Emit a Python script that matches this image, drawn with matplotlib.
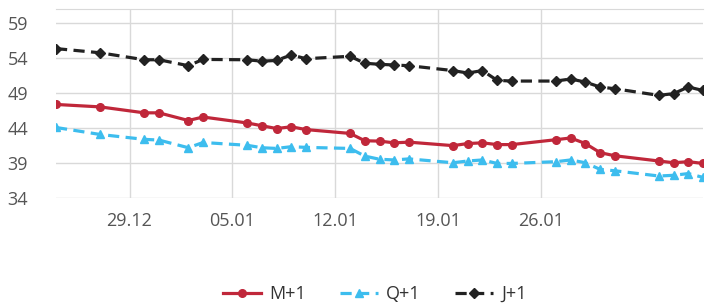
import numpy as np
import matplotlib
matplotlib.use("Agg")
import matplotlib.pyplot as plt
import matplotlib.dates as mdates
from datetime import datetime

# fechas de las observaciones
fechas = ["2019-12-24", "2019-12-27", "2019-12-30", "2019-12-31", "2020-01-02", "2020-01-03",
          "2020-01-06", "2020-01-07", "2020-01-08", "2020-01-09", "2020-01-10",
          "2020-01-13", "2020-01-14", "2020-01-15", "2020-01-16", "2020-01-17",
          "2020-01-20", "2020-01-21", "2020-01-22", "2020-01-23", "2020-01-24",
          "2020-01-27", "2020-01-28", "2020-01-29", "2020-01-30", "2020-01-31",
          "2020-02-03", "2020-02-04", "2020-02-05", "2020-02-06"]

m1 = [47.4, 47.05, 46.2, 46.2, 45.1, 45.6,
      44.75, 44.35, 43.95, 44.2, 43.8,
      43.25, 42.2, 42.15, 41.9, 42.0,
      41.5, 41.8, 41.9, 41.65, 41.65,
      42.35, 42.6, 41.8, 40.5, 40.05,
      39.3, 39.05, 39.2, 38.95]

q1 = [44.1, 43.1, 42.4, 42.3, 41.2, 41.95,
      41.55, 41.2, 41.1, 41.35, 41.25,
      41.1, 40.0, 39.55, 39.45, 39.6,
      39.05, 39.3, 39.45, 38.95, 38.95,
      39.2, 39.45, 39.05, 38.1, 37.9,
      37.15, 37.25, 37.5, 36.95]

j1 = [55.4, 54.8, 53.8, 53.8, 52.95, 53.85,
      53.8, 53.6, 53.7, 54.5, 53.95,
      54.3, 53.3, 53.15, 53.05, 52.95,
      52.25, 51.9, 52.25, 50.85, 50.75,
      50.75, 51.05, 50.6, 49.9, 49.65,
      48.7, 48.95, 49.9, 49.4]

yticks = [34, 39, 44, 49, 54, 59]
xticks = ["2019-12-29", "2020-01-05", "2020-01-12", "2020-01-19", "2020-01-26"]

x = [datetime.strptime(f, "%Y-%m-%d") for f in fechas]

plt.rcParams["font.family"] = ["Open Sans", "DejaVu Sans"]

fig = plt.figure(figsize=(7.12, 3.07), dpi=100)
ax = fig.add_axes([56 / 712, 1 - 198 / 307, (703 - 56) / 712, (198 - 9.5) / 307])

ax.plot(x, m1, color="#C0273A", lw=2.3, marker="o", ms=5.5, label="M+1", zorder=3)
ax.plot(x, q1, color="#3DBDEE", lw=2.3, ls=(0, (3.5, 2)), marker="^", ms=6, label="Q+1", zorder=3)
ax.plot(x, j1, color="#222222", lw=2.3, ls=(0, (3.5, 2)), marker="D", ms=5, label="J+1", zorder=3)

ax.set_xlim(datetime(2019, 12, 24), datetime(2020, 2, 6))
ax.set_ylim(34, 61)
ax.set_yticks(yticks)
ax.set_xticks([datetime.strptime(f, "%Y-%m-%d") for f in xticks])
ax.xaxis.set_major_formatter(mdates.DateFormatter("%d.%m"))
ax.grid(True, color="#D9D9D9", lw=1)
ax.set_axisbelow(True)
for s in ["left", "right", "bottom"]:
    ax.spines[s].set_visible(False)
ax.spines["top"].set_color("#D9D9D9")
ax.tick_params(length=0, labelsize=13, colors="#555555")
ax.tick_params(axis="y", pad=20)
ax.tick_params(axis="x", pad=10)

fig.legend(loc="center", bbox_to_anchor=(375 / 712, 1 - 294 / 307), ncol=3, frameon=False,
           fontsize=13, labelcolor="#333333", handlelength=2.1, columnspacing=1.9,
           handletextpad=0.45)

fig.savefig("out.png", dpi=100)
